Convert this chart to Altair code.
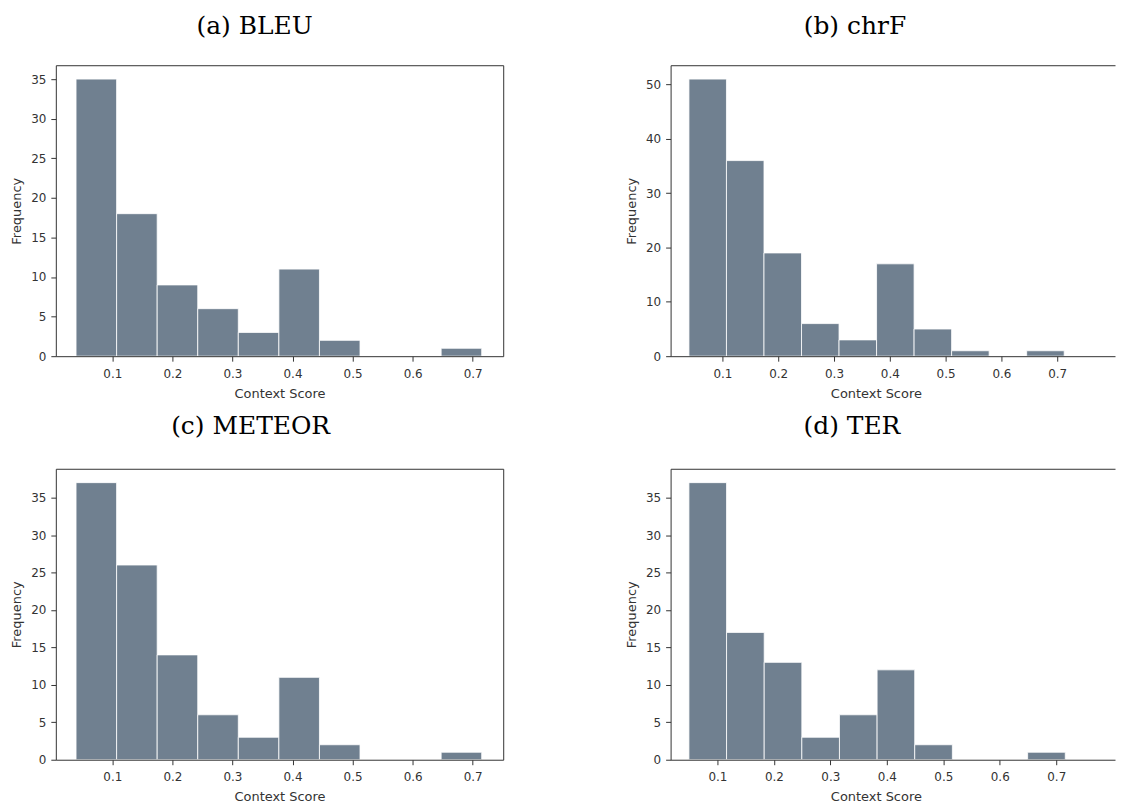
import altair as alt
import numpy as np
import pandas as pd

# ---- data (10-bin histograms of Context Score) ----
panel_titles = ["(a) BLEU", "(b) chrF", "(c) METEOR", "(d) TER"]

bleu_counts = [35, 18, 9, 6, 3, 11, 2, 0, 0, 1]
chrf_counts = [51, 36, 19, 6, 3, 17, 5, 1, 0, 1]
meteor_counts = [37, 26, 14, 6, 3, 11, 2, 0, 0, 1]
ter_counts = [37, 17, 13, 3, 6, 12, 2, 0, 0, 1]

# min / max Context Score of each metric (outer edges of the histogram)
bleu_range = [0.0396, 0.715]
chrf_range = [0.040, 0.7125]
meteor_range = [0.0396, 0.715]
ter_range = [0.0495, 0.716]

x_tick_values = [0.1, 0.2, 0.3, 0.4, 0.5, 0.6, 0.7]
y_ticks_by5 = [0, 5, 10, 15, 20, 25, 30, 35]
y_ticks_by10 = [0, 10, 20, 30, 40, 50]

BAR = "#708090"
INK = "#333333"


def hist_frame(counts, rng):
    edges = np.linspace(rng[0], rng[1], len(counts) + 1)
    df = pd.DataFrame({"start": edges[:-1], "end": edges[1:], "count": counts})
    return df[df["count"] > 0]


def spine_axis(orient):
    return alt.Axis(orient=orient, labels=False, ticks=False, domain=True,
                    title=None, zindex=1, labelPadding=0, minExtent=0,
                    maxExtent=0, offset=0)


def panel(counts, rng, x_domain, y_max, y_ticks, title, width, height,
          title_offset, title_dx, right_spine, xtitle_x=None):
    df = hist_frame(counts, rng)
    base = alt.Chart(df)
    x_axis_kw = dict(values=x_tick_values, format=".1f", title="Context Score",
                     zindex=1, labelPadding=7, titlePadding=8)
    if xtitle_x is not None:
        x_axis_kw["titleX"] = xtitle_x
    xs = alt.Scale(domain=x_domain, nice=False, zero=False)
    ys = alt.Scale(domain=[0, y_max], nice=False, zero=True)
    bars = base.mark_bar(color=BAR, stroke="white", strokeWidth=0.8).encode(
        x=alt.X("start:Q", scale=xs, axis=alt.Axis(**x_axis_kw)),
        x2="end:Q",
        y=alt.Y("count:Q", scale=ys,
                axis=alt.Axis(values=y_ticks, format="d", title="Frequency",
                              zindex=1, minExtent=0)),
        y2=alt.datum(0),
    )
    frame_y = (alt.Y("count:Q", scale=ys, axis=spine_axis("right"))
               if right_spine else alt.Y("count:Q", scale=ys, axis=None))
    frame = base.mark_bar(opacity=0).encode(
        x=alt.X("start:Q", scale=xs, axis=spine_axis("top")),
        x2="end:Q",
        y=frame_y,
        y2=alt.datum(0),
    )
    return (
        alt.layer(bars, frame)
        .resolve_axis(x="independent", y="independent")
        .properties(
            width=width,
            height=height,
            title=alt.TitleParams(
                text=title, font="DejaVu Serif", fontSize=25,
                fontWeight="normal", color="black", anchor="middle",
                baseline="alphabetic", offset=title_offset, dx=title_dx,
            ),
        )
    )


W_LEFT = 449
W_RIGHT = 446
H = 292

dom_left = [0.00594, 0.7508]
dom_b = [0.00714, 0.00714 + W_RIGHT / 560]
dom_d = [0.01706, 0.01706 + W_RIGHT / 566.7]

pa = panel(bleu_counts, bleu_range, dom_left, 36.75, y_ticks_by5,
           panel_titles[0], W_LEFT, H, 6, -25, True)
pb = panel(chrf_counts, chrf_range, dom_b, 53.55, y_ticks_by10,
           panel_titles[1], W_RIGHT, H, 6, -38, False, xtitle_x=206)
pc = panel(meteor_counts, meteor_range, dom_left, 38.85, y_ticks_by5,
           panel_titles[2], W_LEFT, H, 10, -29, True)
pd_ = panel(ter_counts, ter_range, dom_d, 38.85, y_ticks_by5,
            panel_titles[3], W_RIGHT, H, 10, -41, False, xtitle_x=206)

row1 = alt.hconcat(pa, pb, spacing=121)
row2 = alt.hconcat(pc, pd_, spacing=121)

chart = (
    alt.vconcat(row1, row2, spacing=12)
    .properties(padding={"left": 2, "top": 4, "right": 0, "bottom": 0},
                background="white")
    .configure_view(stroke="transparent")
    .configure_axis(
        domainColor=INK, domainWidth=1, tickColor=INK, tickWidth=1, tickSize=5,
        labelFont="DejaVu Sans", labelFontSize=12, labelColor=INK,
        labelPadding=5, titleFont="DejaVu Sans", titleFontSize=13,
        titleFontWeight="normal", titleColor=INK, titlePadding=7, grid=False,
    )
)

chart.save("out.html", embed_options={"renderer": "svg", "actions": False})
